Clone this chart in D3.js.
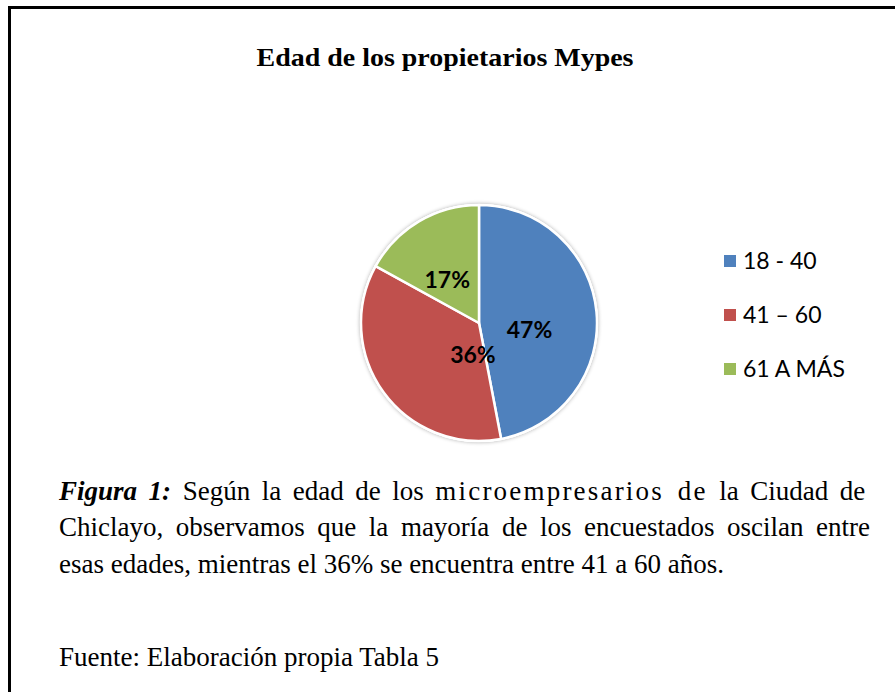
<!DOCTYPE html>
<html>
<head>
<meta charset="utf-8">
<script src="https://cdn.jsdelivr.net/npm/d3@7/dist/d3.min.js"></script>
<style>
  html, body { margin: 0; padding: 0; background: #fff; }
  svg { display: block; }
</style>
</head>
<body>
<svg id="chart" width="895" height="692"></svg>
<script>
// ---- data ----
const categories = ["18 - 40", "41 \u2013 60", "61 A M\u00c1S"];
const values = [47, 36, 17];
const labels = ["47%", "36%", "17%"];
const colors = ["#4F81BD", "#C0504D", "#9BBB59"];
const titleText = "Edad de los propietarios Mypes";

// ---- layout ----
const W = 895, H = 692;
const cx = 479, cy = 323, R = 118;
// label placement (angle in degrees clockwise from top, radius)
const labelPlace = [[98, 51], [191, 32], [324, 54]];

const svg = d3.select("#chart");
const serif = "'Liberation Serif', 'Times New Roman', serif";
const sans = "Lato, 'Open Sans', sans-serif";

// frame
svg.append("line").attr("x1", 9.5).attr("x2", 9.5).attr("y1", 6).attr("y2", H)
  .attr("stroke", "#000").attr("stroke-width", 3);
svg.append("line").attr("x1", 8).attr("x2", W).attr("y1", 7.5).attr("y2", 7.5)
  .attr("stroke", "#000").attr("stroke-width", 3);

// title
const title = svg.append("text")
  .attr("x", 445).attr("y", 66)
  .attr("text-anchor", "middle")
  .attr("font-family", serif)
  .attr("font-weight", "bold")
  .attr("font-size", 25)
  .text(titleText);
{
  const w = title.node().getComputedTextLength();
  if (Math.abs(w - 377) > 4) title.attr("textLength", 377).attr("lengthAdjust", "spacingAndGlyphs");
}

// shadow filter
const defs = svg.append("defs");
const f = defs.append("filter").attr("id", "sh").attr("x", "-20%").attr("y", "-20%").attr("width", "140%").attr("height", "140%");
f.append("feGaussianBlur").attr("in", "SourceAlpha").attr("stdDeviation", 2).attr("result", "b");
f.append("feComponentTransfer").attr("in", "b").attr("result", "o2")
  .append("feFuncA").attr("type", "linear").attr("slope", 0.35);
const fm = f.append("feMerge");
fm.append("feMergeNode").attr("in", "o2");
fm.append("feMergeNode").attr("in", "SourceGraphic");

const pie = d3.pie().sort(null).value(d => d);
const arc = d3.arc().innerRadius(0).outerRadius(R);
const arcs = pie(values);

const g = svg.append("g").attr("transform", `translate(${cx},${cy})`);
g.append("circle").attr("r", R + 1).attr("fill", "#fff").attr("filter", "url(#sh)");
g.selectAll("path.slice").data(arcs).join("path")
  .attr("class", "slice")
  .attr("d", arc)
  .attr("fill", (d, i) => colors[i])
  .attr("stroke", "#fff").attr("stroke-width", 2.5).attr("stroke-linejoin", "round");

g.selectAll("text.lbl").data(arcs).join("text")
  .attr("class", "lbl")
  .attr("x", (d, i) => labelPlace[i][1] * Math.sin(labelPlace[i][0] * Math.PI / 180))
  .attr("y", (d, i) => -labelPlace[i][1] * Math.cos(labelPlace[i][0] * Math.PI / 180))
  .attr("dy", "0.36em")
  .attr("text-anchor", "middle")
  .attr("font-family", sans)
  .attr("font-weight", "bold")
  .attr("font-size", 23)
  .attr("fill", "#000")
  .text((d, i) => labels[i]);

// legend
const leg = svg.append("g");
const ly = d3.scalePoint().domain(categories).range([261, 369]);
categories.forEach((c, i) => {
  leg.append("rect").attr("x", 724).attr("y", ly(c) - 6).attr("width", 12).attr("height", 12).attr("fill", colors[i]);
  leg.append("text").attr("x", 743).attr("y", ly(c)).attr("dy", "0.36em")
    .attr("font-family", sans).attr("font-size", 23).attr("fill", "#000")
    .text(c);
});

// caption
function justify(sel, target) {
  const txt = sel.text();
  const spaces = (txt.match(/ /g) || []).length;
  const w = sel.node().getComputedTextLength();
  if (spaces > 0) sel.attr("word-spacing", (target - w) / spaces);
}
const capSize = 27;
const t1 = svg.append("text").attr("x", 59).attr("y", 500)
  .attr("font-family", serif).attr("font-size", capSize);
t1.append("tspan").attr("font-weight", "bold").attr("font-style", "italic").text("Figura 1:");
t1.append("tspan").text(" Seg\u00fan la edad de los ");
t1.append("tspan").attr("letter-spacing", 2.2).text("microempresarios de");
t1.append("tspan").text("  la Ciudad de");
justify(t1, 811);

const t2 = svg.append("text").attr("x", 59).attr("y", 536)
  .attr("font-family", serif).attr("font-size", capSize)
  .text("Chiclayo, observamos que la mayor\u00eda de los encuestados oscilan entre");
justify(t2, 811);

svg.append("text").attr("x", 59).attr("y", 573)
  .attr("font-family", serif).attr("font-size", capSize)
  .text("esas edades, mientras el 36%  se encuentra entre 41 a 60 a\u00f1os.");

svg.append("text").attr("x", 59).attr("y", 666)
  .attr("font-family", serif).attr("font-size", capSize)
  .text("Fuente: Elaboraci\u00f3n propia Tabla 5");
</script>
</body>
</html>
